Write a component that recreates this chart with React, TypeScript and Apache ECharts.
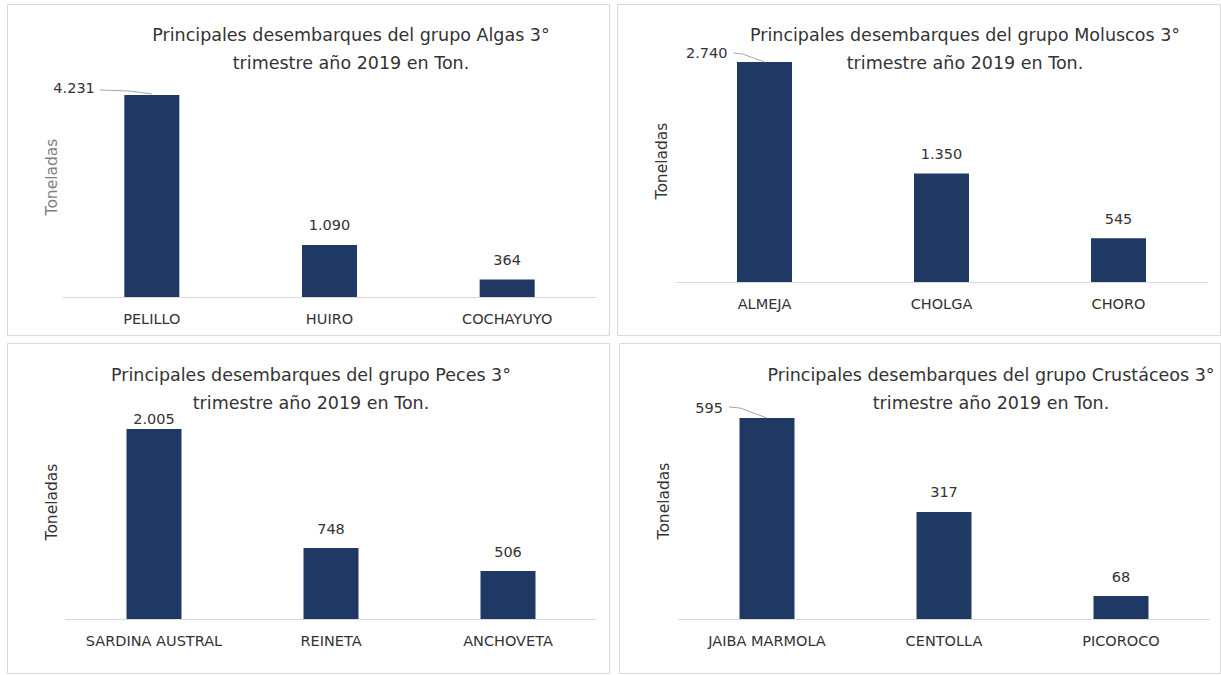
import { useEffect, useRef } from "react";
import * as echarts from "echarts";

// ---------- data ----------
const algasCategories = ["PELILLO", "HUIRO", "COCHAYUYO"];
const algasValues = [4231, 1090, 364];
const moluscosCategories = ["ALMEJA", "CHOLGA", "CHORO"];
const moluscosValues = [2740, 1350, 545];
const pecesCategories = ["SARDINA AUSTRAL", "REINETA", "ANCHOVETA"];
const pecesValues = [2005, 748, 506];
const crustaceosCategories = ["JAIBA MARMOLA", "CENTOLLA", "PICOROCO"];
const crustaceosValues = [595, 317, 68];
const chartTitles = [
  "Principales desembarques del grupo Algas 3°\ntrimestre año 2019 en Ton.",
  "Principales desembarques del grupo Moluscos 3°\ntrimestre año 2019 en Ton.",
  "Principales desembarques del grupo Peces 3°\ntrimestre año 2019 en Ton.",
  "Principales desembarques del grupo Crustáceos 3°\ntrimestre año 2019 en Ton.",
];
const yAxisName = "Toneladas";

const datasets = [
  { categories: algasCategories, values: algasValues },
  { categories: moluscosCategories, values: moluscosValues },
  { categories: pecesCategories, values: pecesValues },
  { categories: crustaceosCategories, values: crustaceosValues },
];

// ---------- layout / style ----------
const FONT = "DejaVu Sans";
const TEXT = "#333333";
const BAR = "#1f3864";
const BORDER = "#d9d9d9";
const LEADER = "#a6a6a6";

type Leader = { label: [number, number]; points: [number, number][] } | null;
const panels: {
  box: [number, number, number, number];
  grid: { left: number; top: number; width: number; height: number };
  title: [number, number];
  yName: [number, number];
  yNameColor: string;
  leader: Leader;
  firstLabelDistance?: number;
}[] = [
  {
    box: [7, 4, 602, 331],
    grid: { left: 63, top: 95, width: 533, height: 202 },
    title: [351, 21],
    yName: [52, 177],
    yNameColor: "#7f7f7f",
    leader: { label: [-57, -7], points: [[-52, -5], [-22, -4], [0, -1]] },
  },
  {
    box: [617, 4, 603, 331],
    grid: { left: 676, top: 62, width: 531, height: 220 },
    title: [965, 21],
    yName: [662, 161],
    yNameColor: TEXT,
    leader: { label: [-37, -9], points: [[-31, -9], [-22, -8], [0, 0]] },
  },
  {
    box: [7, 343, 602, 330],
    grid: { left: 65.5, top: 429, width: 531, height: 190 },
    title: [311, 361],
    yName: [52, 502],
    yNameColor: TEXT,
    leader: null,
    firstLabelDistance: 3,
  },
  {
    box: [619, 343, 601, 330],
    grid: { left: 678.5, top: 418, width: 531, height: 201 },
    title: [991, 361],
    yName: [664, 501],
    yNameColor: TEXT,
    leader: { label: [-44, -10], points: [[-38, -11], [-27, -10], [0, 0]] },
  },
];

const fmt = (v: number) => String(v).replace(/\B(?=(\d{3})+(?!\d))/g, ".");

export default function App() {
  const ref = useRef<HTMLDivElement>(null);
  useEffect(() => {
    document.body.style.margin = "0";
    if (!ref.current) return;
    const chart = echarts.init(ref.current, undefined, { renderer: "svg" });

    const barSeries = datasets.map((d, i) => {
      const p = panels[i];
      const leader = p.leader;
      return {
        type: "bar",
        xAxisIndex: i,
        yAxisIndex: i,
        barWidth: 55,
        itemStyle: { color: BAR },
        label: {
          show: true,
          position: "top",
          distance: 12,
          fontSize: 14.5,
          color: TEXT,
          fontFamily: FONT,
          formatter: (prm: any) => fmt(prm.value),
        },
        data: d.values.map((v, j) => {
          if (j === 0 && p.firstLabelDistance != null)
            return { value: v, label: { distance: p.firstLabelDistance } };
          return v;
        }),
        labelLayout: (prm: any) => {
          if (!leader || prm.dataIndex !== 0) return {};
          const cx = prm.rect.x + prm.rect.width / 2;
          const ty = prm.rect.y;
          return {
            x: cx + leader.label[0],
            y: ty + leader.label[1],
            align: "right",
            verticalAlign: "middle",
          };
        },
      };
    });

    const leaderSeries = datasets
      .map((d, i) => ({ d, i, leader: panels[i].leader }))
      .filter((o) => o.leader)
      .map(({ d, i, leader }) => ({
        type: "custom",
        xAxisIndex: i,
        yAxisIndex: i,
        silent: true,
        z: 5,
        data: [[0, d.values[0]]],
        renderItem: (_params: any, api: any) => {
          const pt = api.coord([api.value(0), api.value(1)]);
          return {
            type: "polyline",
            shape: {
              points: (leader as any).points.map(([dx, dy]: [number, number]) => [pt[0] + dx, pt[1] + dy]),
            },
            style: { stroke: LEADER, fill: "none", lineWidth: 1 },
          };
        },
      }));

    const option: any = {
      animation: false,
      backgroundColor: "#ffffff",
      textStyle: { fontFamily: FONT },
      title: panels.map((p, i) => ({
        text: chartTitles[i],
        left: p.title[0],
        top: p.title[1],
        textAlign: "center",
        padding: 0,
        textStyle: {
          fontFamily: FONT,
          fontSize: 17.5,
          fontWeight: "normal",
          lineHeight: 28,
          color: TEXT,
        },
      })),
      grid: panels.map((p) => ({ ...p.grid, containLabel: false })),
      xAxis: datasets.map((d, i) => ({
        type: "category",
        gridIndex: i,
        data: d.categories,
        axisLine: { lineStyle: { color: BORDER, width: 1 } },
        axisTick: { show: false },
        axisLabel: { margin: 14, fontSize: 14.5, color: TEXT, fontFamily: FONT, interval: 0 },
        splitLine: { show: false },
      })),
      yAxis: datasets.map((d, i) => ({
        type: "value",
        gridIndex: i,
        min: 0,
        max: Math.max(...d.values),
        show: false,
        splitLine: { show: false },
      })),
      series: [...barSeries, ...leaderSeries],
      graphic: [
        ...panels.map((p) => ({
          type: "rect",
          shape: { x: p.box[0] + 0.5, y: p.box[1] + 0.5, width: p.box[2], height: p.box[3] },
          style: { fill: "none", stroke: BORDER, lineWidth: 1 },
          silent: true,
          z: -1,
        })),
        ...panels.map((p) => ({
          type: "text",
          x: p.yName[0],
          y: p.yName[1],
          rotation: Math.PI / 2,
          style: {
            text: yAxisName,
            align: "center",
            verticalAlign: "middle",
            fontSize: 15.5,
            fontFamily: FONT,
            fill: p.yNameColor,
          },
          silent: true,
        })),
      ],
    };

    chart.setOption(option);
    return () => chart.dispose();
  }, []);

  return <div ref={ref} style={{ width: 1221, height: 675 }} />;
}
